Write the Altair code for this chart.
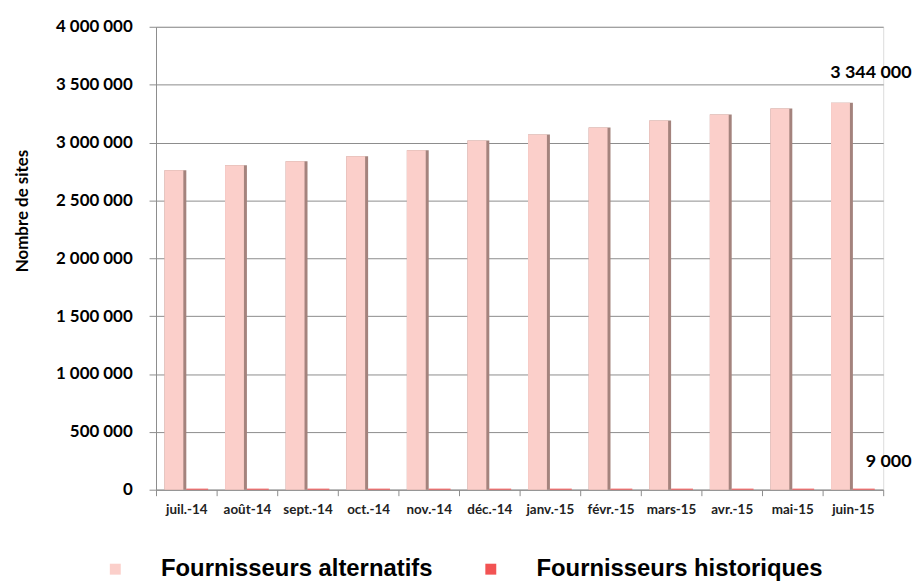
import altair as alt
import pandas as pd

months = ["juil.-14", "août-14", "sept.-14", "oct.-14", "nov.-14", "déc.-14",
          "janv.-15", "févr.-15", "mars-15", "avr.-15", "mai-15", "juin-15"]
alternatifs = [2760000, 2803000, 2838000, 2881000, 2933000, 3018000,
               3070000, 3130000, 3190000, 3242000, 3293000, 3344000]
historiques = [9000, 9000, 9000, 9000, 9000, 9000,
               9000, 9000, 9000, 9000, 9000, 9000]
series_names = ["Fournisseurs alternatifs", "Fournisseurs historiques"]
y_ticks = [0, 500000, 1000000, 1500000, 2000000, 2500000, 3000000, 3500000, 4000000]

rows = []
for m, a, h in zip(months, alternatifs, historiques):
    rows.append({"mois": m, "serie": series_names[0], "valeur": a})
    rows.append({"mois": m, "serie": series_names[1], "valeur": h})
df = pd.DataFrame(rows)

FONT = "Lato"
fmt = "replace(format(datum.valeur, ','), regexp(',', 'g'), ' ')"

x_enc = alt.X("mois:N", sort=months, title=None,
              scale=alt.Scale(paddingInner=0, paddingOuter=0),
              axis=alt.Axis(tickBand="extent", labelAngle=0, labelFont=FONT,
                            labelFontWeight="bold", labelFontSize=13.5,
                            labelColor="#222222", labelPadding=7,
                            domainColor="#8c8c8c", tickColor="#8c8c8c",
                            tickSize=6, grid=False))
y_enc = alt.Y("valeur:Q", title="Nombre de sites",
              scale=alt.Scale(domain=[0, 4000000], nice=False),
              axis=alt.Axis(values=y_ticks,
                            labelExpr="replace(format(datum.value, ','), regexp(',', 'g'), ' ')",
                            labelFont=FONT, labelFontWeight="bold", labelFontSize=17,
                            labelColor="#000000", labelPadding=17,
                            tickSize=7, tickColor="#8c8c8c", domainColor="#8c8c8c",
                            gridColor="#8c8c8c", gridWidth=1,
                            titleFont=FONT, titleFontWeight="bold", titleFontSize=17,
                            titleColor="#000000", titleX=-125, titleY=185, titleAngle=-90))

color_scale = alt.Scale(domain=series_names, range=["#FBCFCA", "#F25353"])
legend = alt.Legend(title=None, orient="none", direction="horizontal",
                    legendX=-53, legendY=534, symbolType="square", symbolSize=121,
                    symbolStrokeWidth=0, labelFont="Liberation Sans",
                    labelFontWeight="bold", labelFontSize=24, labelColor="#000000",
                    labelOffset=34, columnPadding=46, labelLimit=400)

base = alt.Chart(df)

shadow = base.transform_filter(alt.datum.serie == series_names[0]).mark_bar(
    color="#A4837D", width=22, xOffset=-11).encode(x=x_enc, y=y_enc)

light = base.transform_filter(alt.datum.serie == series_names[0]).mark_bar(
    width=19, xOffset=-12.5).encode(
    x=x_enc, y=y_enc,
    color=alt.Color("serie:N", scale=color_scale, legend=legend))

hist = base.transform_filter(alt.datum.serie == series_names[1]).mark_bar(
    width=22, xOffset=11).encode(
    x=x_enc, y=y_enc,
    color=alt.Color("serie:N", scale=color_scale, legend=legend))

lab_alt = base.transform_filter(
    (alt.datum.serie == series_names[0]) & (alt.datum.mois == months[-1])
).transform_calculate(label=fmt).mark_text(
    align="right", baseline="middle", dx=59, dy=-29.5, font=FONT,
    fontWeight="bold", fontSize=18, color="#000000").encode(
    x=x_enc, y=y_enc, text="label:N")

lab_hist = base.transform_filter(
    (alt.datum.serie == series_names[1]) & (alt.datum.mois == months[-1])
).transform_calculate(label=fmt).mark_text(
    align="right", baseline="middle", dx=59, dy=-27, font=FONT,
    fontWeight="bold", fontSize=18, color="#000000").encode(
    x=x_enc, y=y_enc, text="label:N")

chart = alt.layer(shadow, light, hist, lab_alt, lab_hist).properties(
    width=732, height=466,
    autosize=alt.AutoSizeParams(type="none"),
    padding={"left": 149, "top": 17, "right": 30, "bottom": 90},
).configure_view(stroke=None).configure(background="#ffffff")

chart.save("out.html", embed_options={"renderer": "svg", "actions": False})
